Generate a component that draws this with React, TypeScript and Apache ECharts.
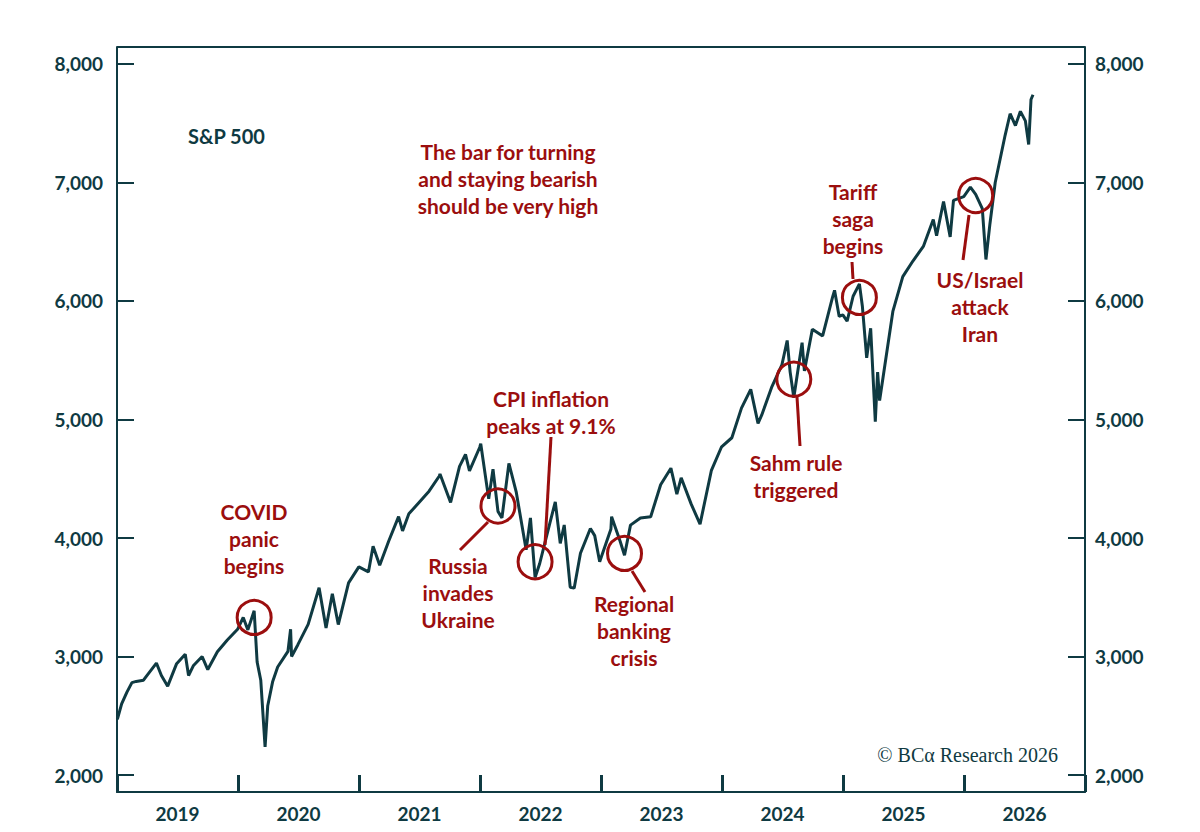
import React, { useEffect, useRef } from 'react'
import * as echarts from 'echarts'

// S&P 500
const dates = [
  '2019-01-02', '2019-01-15', '2019-01-31', '2019-02-15', '2019-02-28', '2019-03-22', '2019-03-31', '2019-04-30', '2019-05-15', '2019-06-03', '2019-06-30', '2019-07-26', '2019-08-05', '2019-08-20', '2019-09-15', '2019-10-02', '2019-10-31', '2019-11-30', '2019-12-31',
  '2020-01-17', '2020-01-31', '2020-02-19', '2020-02-28', '2020-03-10', '2020-03-23', '2020-03-31', '2020-04-15', '2020-04-30', '2020-05-31', '2020-06-08', '2020-06-11', '2020-06-30', '2020-07-31', '2020-09-02', '2020-09-23', '2020-10-12', '2020-10-30', '2020-11-30', '2020-12-31',
  '2021-01-29', '2021-02-12', '2021-03-04', '2021-03-31', '2021-04-30', '2021-05-12', '2021-05-31', '2021-06-30', '2021-07-31', '2021-08-31', '2021-09-02', '2021-10-04', '2021-10-31', '2021-11-18', '2021-11-30', '2021-12-31',
  '2022-01-03', '2022-01-27', '2022-02-09', '2022-02-24', '2022-03-08', '2022-03-29', '2022-04-20', '2022-05-20', '2022-06-02', '2022-06-16', '2022-06-30', '2022-07-31', '2022-08-16', '2022-08-31', '2022-09-12', '2022-09-30', '2022-10-12', '2022-10-31', '2022-11-30', '2022-12-13', '2022-12-28',
  '2023-01-31', '2023-02-02', '2023-02-28', '2023-03-13', '2023-03-31', '2023-04-30', '2023-05-31', '2023-06-30', '2023-07-31', '2023-08-18', '2023-08-31', '2023-09-30', '2023-10-27', '2023-11-30', '2023-12-31',
  '2024-01-31', '2024-02-29', '2024-03-28', '2024-04-19', '2024-04-30', '2024-05-31', '2024-06-30', '2024-07-16', '2024-07-25', '2024-08-05', '2024-08-30', '2024-09-06', '2024-09-30', '2024-10-31', '2024-11-30', '2024-12-06', '2024-12-20', '2024-12-31',
  '2025-01-13', '2025-01-31', '2025-02-19', '2025-02-28', '2025-03-13', '2025-03-25', '2025-04-08', '2025-04-15', '2025-04-21', '2025-05-31', '2025-06-30', '2025-07-31', '2025-08-31', '2025-09-30', '2025-10-10', '2025-10-31', '2025-11-20', '2025-11-30', '2025-12-31',
  '2026-01-20', '2026-02-05', '2026-02-25', '2026-03-08', '2026-03-20', '2026-04-05', '2026-04-20', '2026-05-05', '2026-05-20', '2026-06-05', '2026-06-20', '2026-07-05', '2026-07-15', '2026-07-22', '2026-07-28'
]
const values = [
  2470, 2600, 2700, 2780, 2790, 2800, 2835, 2945, 2840, 2750, 2940, 3020, 2840, 2925, 3000, 2890, 3040, 3140, 3230,
  3330, 3225, 3386, 2954, 2800, 2237, 2585, 2790, 2912, 3044, 3230, 3000, 3100, 3271, 3580, 3240, 3530, 3270, 3622, 3756,
  3714, 3930, 3770, 3973, 4181, 4060, 4204, 4298, 4395, 4523, 4540, 4300, 4605, 4705, 4567, 4766,
  4796, 4330, 4580, 4225, 4170, 4630, 4390, 3900, 4170, 3667, 3785, 4130, 4305, 3955, 4110, 3585, 3577, 3872, 4080, 4020, 3800,
  4077, 4180, 3970, 3855, 4109, 4169, 4180, 4450, 4589, 4370, 4508, 4288, 4117, 4568, 4770,
  4846, 5096, 5254, 4967, 5036, 5278, 5460, 5667, 5400, 5186, 5648, 5410, 5762, 5705, 6032, 6090, 5870, 5882,
  5830, 6040, 6144, 5955, 5520, 5770, 4982, 5400, 5160, 5912, 6205, 6339, 6460, 6688, 6550, 6840, 6540, 6849, 6880,
  6960, 6900, 6780, 6350, 6650, 7000, 7200, 7400, 7580, 7480, 7600, 7520, 7320, 7700, 7740
]
const years = ['2019', '2020', '2021', '2022', '2023', '2024', '2025', '2026']
const yTicks = [2000, 3000, 4000, 5000, 6000, 7000, 8000]

// event circles: date, value, label, label position, pointer
const events = [
  { date: '2020-02-19', value: 3330, text: 'COVID\npanic\nbegins', tx: 254, ty: 538, line: null },
  { date: '2022-02-24', value: 4270, text: 'Russia\ninvades\nUkraine', tx: 458, ty: 592, line: [[488, 522], [460, 550]] },
  { date: '2022-06-16', value: 3800, text: 'CPI inflation\npeaks at 9.1%', tx: 551, ty: 412, line: [[545, 545], [551, 437]] },
  { date: '2023-03-13', value: 3870, text: 'Regional\nbanking\ncrisis', tx: 634, ty: 630, line: [[632, 571], [645, 592]] },
  { date: '2024-08-05', value: 5340, text: 'Sahm rule\ntriggered', tx: 796, ty: 476, line: [[797, 397], [800, 446]] },
  { date: '2025-02-19', value: 6030, text: 'Tariff\nsaga\nbegins', tx: 853, ty: 218, line: [[853, 279], [852, 262]] },
  { date: '2026-02-05', value: 6890, text: 'US/Israel\nattack\nIran', tx: 980, ty: 306, line: [[969, 215], [963, 260]] }
]

const INK = '#0f3a42'
const RED = '#9b0e0e'
const FONT = 'Lato, "Open Sans", sans-serif'

const App: React.FC = () => {
  const chartRef = useRef<HTMLDivElement>(null)

  useEffect(() => {
    if (!chartRef.current) return
    const chart = echarts.init(chartRef.current, undefined, { renderer: 'svg' })

    const axisLabel = {
      customValues: yTicks,
      color: INK,
      fontSize: 19,
      fontWeight: 'bold' as const,
      fontFamily: FONT,
      formatter: (v: number) => v.toLocaleString('en-US')
    }

    chart.setOption({
      animation: false,
      grid: { left: 117, right: 115, top: 47, bottom: 40 },
      xAxis: [
        {
          type: 'time',
          min: '2019-01-01',
          max: '2027-01-01',
          axisLine: { show: true, lineStyle: { color: INK, width: 2 } },
          axisTick: { show: false },
          axisLabel: { show: false },
          splitLine: { show: false }
        },
        {
          type: 'category',
          data: years,
          position: 'bottom',
          boundaryGap: true,
          axisLine: { show: false },
          axisTick: { show: true, inside: true, length: 17, alignWithLabel: false, lineStyle: { color: INK, width: 3 } },
          axisLabel: { color: INK, fontSize: 19, fontWeight: 'bold', fontFamily: FONT, margin: 12 },
          splitLine: { show: false }
        }
      ],
      yAxis: [
        {
          type: 'value',
          min: 1857,
          max: 8143,
          position: 'left',
          axisLine: { show: true, lineStyle: { color: INK, width: 2 } },
          axisTick: { show: true, inside: true, length: 17, customValues: yTicks, lineStyle: { color: INK, width: 2 } },
          axisLabel: { ...axisLabel, margin: 14 },
          splitLine: { show: false }
        },
        {
          type: 'value',
          min: 1857,
          max: 8143,
          position: 'right',
          axisLine: { show: true, lineStyle: { color: INK, width: 2 } },
          axisTick: { show: true, inside: true, length: 17, customValues: yTicks, lineStyle: { color: INK, width: 2 } },
          axisLabel: { ...axisLabel, margin: 10 },
          splitLine: { show: false }
        }
      ],
      series: [
        {
          type: 'line',
          data: dates.map((d, i) => [d, values[i]]),
          showSymbol: false,
          lineStyle: { color: INK, width: 3 },
          z: 3
        }
      ]
    })

    // top frame line
    const graphics: any[] = [
      { type: 'line', shape: { x1: 117, y1: 47, x2: 1085, y2: 47 }, style: { stroke: INK, lineWidth: 2 } },
      { type: 'text', left: 188, top: 126, style: { text: 'S&P 500', fill: INK, font: `bold 20px ${FONT}` } },
      {
        type: 'text', x: 508, y: 138,
        style: { text: 'The bar for turning\nand staying bearish\nshould be very high', fill: RED, font: `bold 21px ${FONT}`, align: 'center', lineHeight: 27 }
      },
      {
        type: 'text', x: 1058, y: 745,
        style: { text: '© BCα Research 2026', fill: INK, font: '20px "Liberation Serif", serif', align: 'right' }
      }
    ]
    events.forEach((e) => {
      const p = chart.convertToPixel({ xAxisIndex: 0, yAxisIndex: 0 }, [e.date, e.value]) as number[]
      graphics.push({ type: 'circle', shape: { cx: p[0], cy: p[1], r: 17 }, style: { stroke: RED, lineWidth: 3, fill: 'none' }, z: 10 })
      graphics.push({
        type: 'text', x: e.tx, y: e.ty,
        style: { text: e.text, fill: RED, font: `bold 21px ${FONT}`, align: 'center', verticalAlign: 'middle', lineHeight: 27 }, z: 10
      })
      if (e.line) {
        graphics.push({
          type: 'line',
          shape: { x1: e.line[0][0], y1: e.line[0][1], x2: e.line[1][0], y2: e.line[1][1] },
          style: { stroke: RED, lineWidth: 3 }, z: 10
        })
      }
    })
    chart.setOption({ graphic: graphics })

    return () => {
      chart.dispose()
    }
  }, [])

  return (
    <div
      ref={chartRef}
      style={{ position: 'fixed', left: 0, top: 0, width: '1200px', height: '832px', background: '#fff' }}
    />
  )
}

export default App
